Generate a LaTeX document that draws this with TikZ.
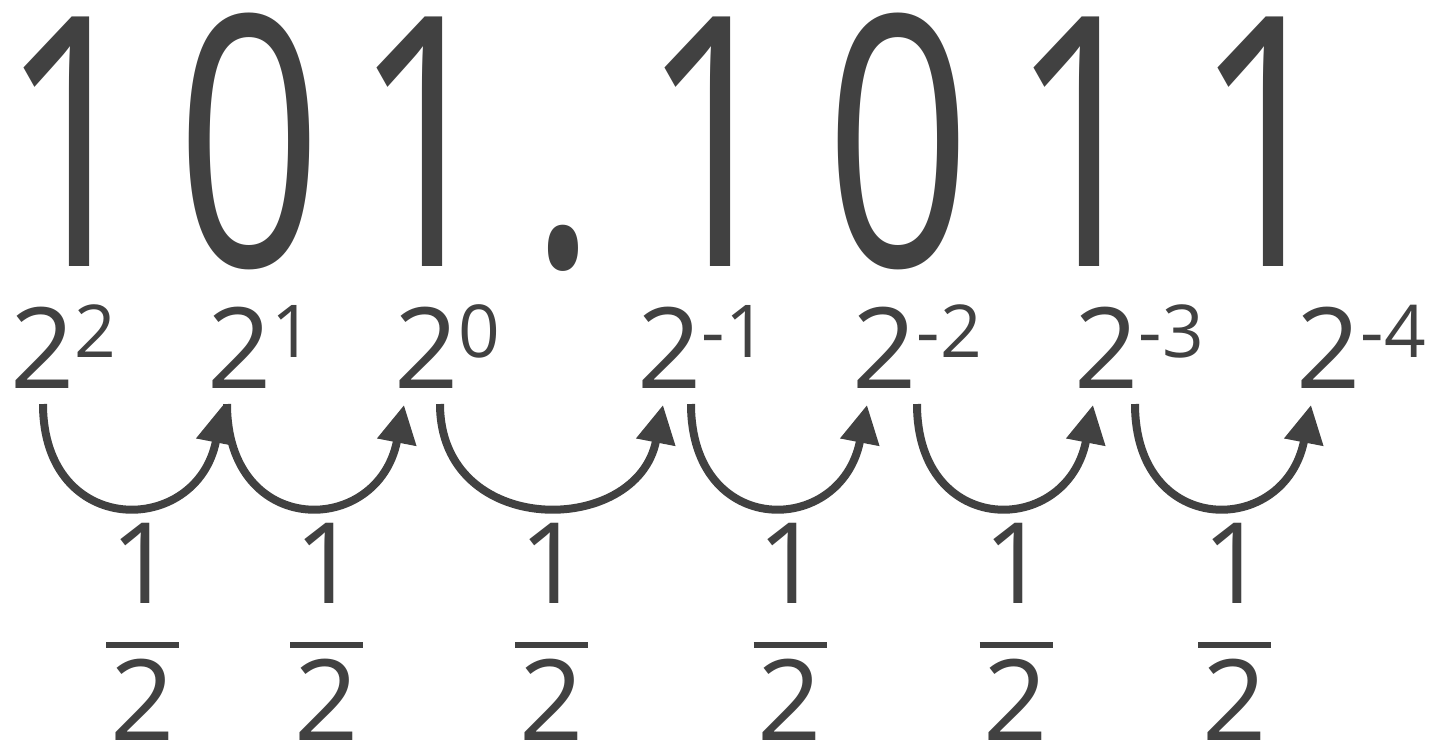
\documentclass[tikz,border=0pt]{standalone}
\usepackage{fontspec}
\setmainfont{Open Sans}
\usetikzlibrary{arrows.meta}
\definecolor{ink}{RGB}{65,65,65}
\newcommand\supfont{\fontsize{41.5}{42}\selectfont}
\newcommand\pw[1]{2\raisebox{17.1pt}{\supfont #1}}
\begin{document}
\begin{tikzpicture}[x=0.02cm, y=-0.02cm, ink, every node/.append style={inner sep=0pt, text=ink},
  big/.style={font=\fontsize{199}{200}\selectfont, anchor=base west},
  pow/.style={font=\fontsize{64}{65}\selectfont, anchor=base west},
  frac/.style={font=\fontsize{64}{65}\selectfont, anchor=base},
  jump/.style={line width=0.16cm, -{Triangle[length=0.76cm, width=0.76cm]}, out=-90, in=-101, distance=2.7cm},
  bar/.style={line width=0.12cm}]
  \useasboundingbox (0,0) rectangle (1429,744);
  % the number
  \node[big] (num) at (0,266) {\scalebox{0.73}[1]{{\addfontfeature{LetterSpace=12}101.}\kern34pt{\addfontfeature{LetterSpace=15}1011}}};
  % place values
  \node[pow] (p2) at (10,388)   {\pw{2}};
  \node[pow] (p1) at (207,388)  {\pw{1}};
  \node[pow] (p0) at (394,388)  {\pw{0}};
  \node[pow] (q1) at (637,388)  {\pw{-1}};
  \node[pow] (q2) at (852,388)  {\pw{-2}};
  \node[pow] (q3) at (1074,388) {\pw{-3}};
  \node[pow] (q4) at (1296,388) {\pw{-4}};
  % halving steps
  \foreach \a/\b/\s/\t in {p2/p1/33/16, p1/p0/20/10, p0/q1/46/26, q1/q2/54/15, q2/q3/65/19, q3/q4/61/15}
    \draw[jump] ([shift={(\s,16)}]\a.base west) to ([shift={(\t,17)}]\b.base west);
  \foreach \c [count=\i] in {142.5,326.5,551.5,790,1016,1234.5} {
    \node[frac] (n\i) at (\c,603) {1};
    \node[frac] (d\i) at (\c,740) {2};
    \draw[bar] (\c-36.5,645) -- (\c+36.5,645);
  }
\end{tikzpicture}
\end{document}
